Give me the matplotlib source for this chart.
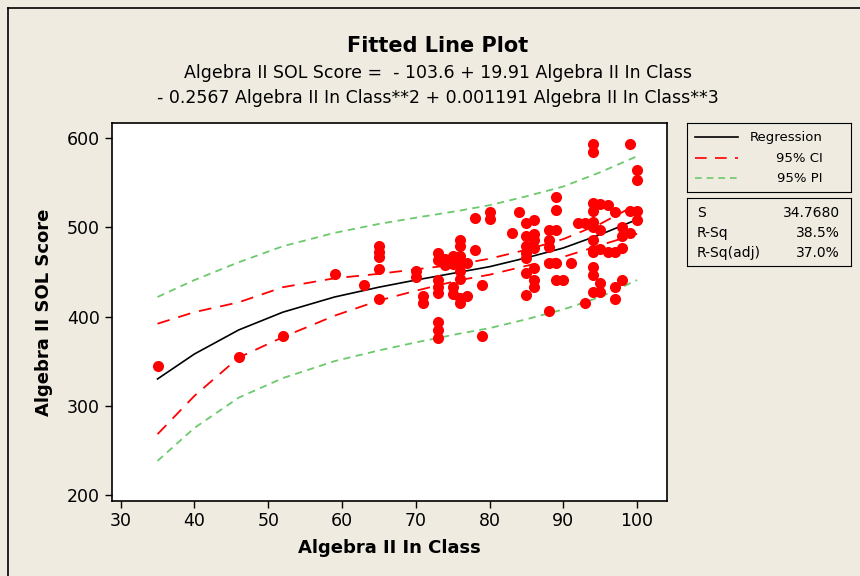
import matplotlib
matplotlib.use("Agg")
import matplotlib.pyplot as plt
from matplotlib.lines import Line2D

x_class = [35, 46, 52, 59, 63,
           65, 65, 65, 65, 65,
           70, 70, 71, 71,
           73, 73, 73, 73, 73, 73, 73, 73,
           74, 74, 75, 75, 75, 75,
           76, 76, 76, 76, 76, 76, 76, 76,
           77, 77, 78, 78, 79, 79, 80, 80, 83, 84,
           85, 85, 85, 85, 85, 85, 85,
           86, 86, 86, 86, 86, 86, 86,
           88, 88, 88, 88, 88,
           89, 89, 89, 89, 89,
           90, 91, 92, 93, 93,
           94, 94, 94, 94, 94, 94, 94, 94, 94, 94, 94, 94,
           95, 95, 95, 95, 95,
           96, 96, 97, 97, 97, 97,
           98, 98, 98, 98, 99, 99, 99,
           100, 100, 100, 100]
y_sol = [345, 355, 378, 448, 435,
         479, 473, 467, 453, 420,
         451, 444, 423, 415,
         471, 464, 441, 433, 426, 394, 385, 376,
         465, 458, 468, 459, 433, 425,
         486, 479, 468, 460, 451, 442, 421, 415,
         460, 423, 511, 475, 435, 378, 517, 510, 494, 517,
         505, 490, 479, 471, 466, 449, 424,
         508, 493, 486, 477, 454, 441, 433,
         497, 486, 478, 460, 406,
         534, 520, 497, 460, 441,
         441, 460, 505, 505, 415,
         594, 585, 528, 519, 506, 500, 486, 475, 472, 456, 447, 428,
         526, 497, 476, 438, 428,
         525, 472, 517, 472, 433, 420,
         500, 490, 477, 441, 594, 494, 519,
         564, 553, 519, 508]

# Fitted curve and bands, read at a few x positions
x_fit = [35, 40, 46, 52, 59, 65, 70, 76, 80, 85, 90, 95, 100]
fit = [330, 358, 385, 405, 422, 433, 441, 450, 456, 466, 477, 492, 509]
ci_lo = [268, 311, 354, 377, 401, 418, 429, 441, 447, 457, 467, 480, 493]
ci_hi = [392, 405, 416, 433, 443, 448, 453, 459, 465, 475, 487, 504, 526]
pi_lo = [238, 275, 309, 331, 350, 362, 371, 381, 387, 397, 408, 422, 441]
pi_hi = [422, 441, 461, 479, 494, 504, 511, 519, 525, 535, 546, 562, 580]

stats = [("S", "34.7680"), ("R-Sq", "38.5%"), ("R-Sq(adj)", "37.0%")]

BG = "#efebe1"
RED = "#ff0000"
GREEN = "#6cc96c"

fig = plt.figure(figsize=(8.6, 5.76), dpi=100, facecolor=BG)
ax = fig.add_axes([0.130, 0.131, 0.646, 0.655])
ax.set_facecolor("white")

ax.plot(x_fit, pi_hi, color=GREEN, lw=1.3, dashes=(4, 3))
ax.plot(x_fit, pi_lo, color=GREEN, lw=1.3, dashes=(4, 3))
ax.plot(x_fit, ci_hi, color=RED, lw=1.3, dashes=(7, 5))
ax.plot(x_fit, ci_lo, color=RED, lw=1.3, dashes=(7, 5))
ax.plot(x_fit, fit, color="black", lw=1.2)
ax.scatter(x_class, y_sol, s=64, color=RED, zorder=3, linewidths=0)

ax.set_xlim(28.8, 104.1)
ax.set_ylim(193.5, 617)
ax.set_xticks(range(30, 101, 10))
ax.set_yticks(range(200, 601, 100))
ax.tick_params(direction="out", length=5, width=1, labelsize=12.5, colors="black")
for s in ax.spines.values():
    s.set_linewidth(1.2)
ax.set_xlabel("Algebra II In Class", fontsize=13, fontweight="bold", labelpad=6)
ax.set_ylabel("Algebra II SOL Score", fontsize=13, fontweight="bold", labelpad=10)

fig.text(0.509, 0.920, "Fitted Line Plot", ha="center", va="center",
         fontsize=15, fontweight="bold")
fig.text(0.509, 0.873, "Algebra II SOL Score =  - 103.6 + 19.91 Algebra II In Class",
         ha="center", va="center", fontsize=12.5)
fig.text(0.509, 0.830, "- 0.2567 Algebra II In Class**2 + 0.001191 Algebra II In Class**3",
         ha="center", va="center", fontsize=12.5)

# legend box
lg = fig.add_axes([0.799, 0.667, 0.191, 0.120], facecolor=BG)
lg.set_xlim(0, 1)
lg.set_ylim(0, 1)
lg.set_xticks([])
lg.set_yticks([])
rows = [("Regression", "black", None), ("95% CI", RED, (7, 5)), ("95% PI", GREEN, (4, 3))]
for (name, col, dsh), yy in zip(rows, [0.787, 0.488, 0.199]):
    ln = Line2D([0.049, 0.311], [yy, yy], color=col, lw=1.2)
    if dsh:
        ln.set_dashes(dsh)
    lg.add_line(ln)
    lg.text(0.823, yy, name, ha="right", va="center", fontsize=9.5)

# summary box
sb = fig.add_axes([0.799, 0.538, 0.191, 0.118], facecolor=BG)
sb.set_xlim(0, 1)
sb.set_ylim(0, 1)
sb.set_xticks([])
sb.set_yticks([])
for (k, v), yy in zip(stats, [0.784, 0.485, 0.191]):
    sb.text(0.059, yy, k, ha="left", va="center", fontsize=10)
    sb.text(0.929, yy, v, ha="right", va="center", fontsize=10)

# outer frame (only top and left edges fall inside the picture)
fig.add_artist(Line2D([8 / 860, 1], [1 - 8 / 576, 1 - 8 / 576], color="black", lw=1.2))
fig.add_artist(Line2D([8 / 860, 8 / 860], [0, 1 - 8 / 576], color="black", lw=1.2))

fig.savefig("out.png", dpi=100, facecolor=BG)
